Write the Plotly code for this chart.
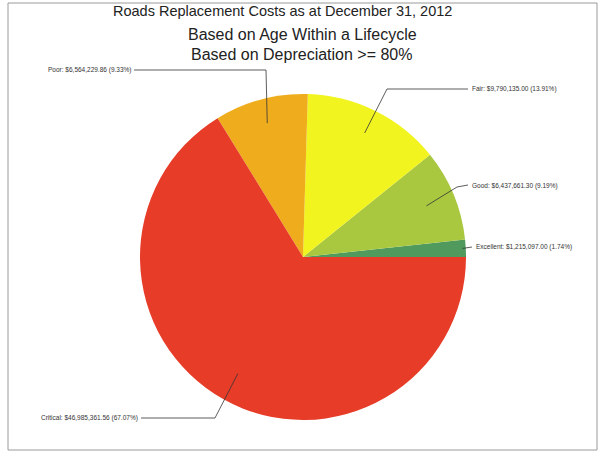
import math
import plotly.graph_objects as go

W, H = 603, 456

categories = ["Excellent", "Good", "Fair", "Poor", "Critical"]
values = [1215097.00, 6437661.30, 9750135.00, 6564229.86, 46985361.56]
label_texts = [
    "Excellent: $1,215,097.00 (1.74%)",
    "Good: $6,437,661.30 (9.19%)",
    "Fair: $9,790,135.00 (13.91%)",
    "Poor: $6,564,229.86 (9.33%)",
    "Critical: $46,985,361.56 (67.07%)",
]
colors = ["#4f9a5c", "#a9c840", "#f1f41e", "#efad1e", "#e63c28"]

title_lines = [
    "Roads Replacement Costs as at December 31, 2012",
    "Based on Age Within a Lifecycle",
    "Based on Depreciation >= 80%",
]

# pie geometry in pixels
cx, cy, R = 303, 257, 163

def px(x):
    return x / W

def py(y):
    return 1 - y / H

total = sum(values)

fig = go.Figure(go.Pie(
    labels=categories,
    values=values,
    marker=dict(colors=colors, line=dict(width=0)),
    sort=False,
    direction="counterclockwise",
    rotation=90 - 360 * values[0] / total,
    textinfo="none",
    hoverinfo="label+value+percent",
    domain=dict(x=[px(cx - R), px(cx + R)], y=[py(cy + R), py(cy - R)]),
    showlegend=False,
))

# anchor points from data (mid-angle of each slice, ccw from 3 o'clock)
cum = 0
anchors = []
for v in values:
    mid = cum + v / 2
    cum += v
    anchors.append(2 * math.pi * mid / total)

layouts = {
    "Excellent": dict(tx=474, ty=247, xanchor="left", elbow=[(472, 247)], rf=0.98),
    "Good": dict(tx=470, ty=186, xanchor="left", elbow=[(468, 185), (457, 187)], rf=0.82),
    "Fair": dict(tx=470, ty=89, xanchor="left", elbow=[(468, 89), (387, 89)], rf=0.85),
    "Poor": dict(tx=133, ty=70, xanchor="right", elbow=[(134, 70), (266, 70)], rf=0.85),
    "Critical": dict(tx=140, ty=418, xanchor="right", elbow=[(141, 418), (215, 418)], rf=0.82),
}

shapes = []
annotations = []
for cat, txt, a in zip(categories, label_texts, anchors):
    L = layouts[cat]
    axp = cx + L["rf"] * R * math.cos(a)
    ayp = cy - L["rf"] * R * math.sin(a)
    pts = L["elbow"] + [(axp, ayp)]
    path = "M " + " L ".join(f"{px(x):.5f},{py(y):.5f}" for x, y in pts)
    shapes.append(dict(type="path", xref="paper", yref="paper", path=path,
                       line=dict(color="#333333", width=0.8)))
    annotations.append(dict(text=txt, x=px(L["tx"]), y=py(L["ty"]), xref="paper", yref="paper",
                            xanchor=L["xanchor"], yanchor="middle", showarrow=False,
                            font=dict(size=6.5, color="#333333", family="Liberation Sans, Arial")))

title_pos = [(282, 11, 14.5), (302, 34, 16), (301, 55, 16)]
for t, (tx, ty, fs) in zip(title_lines, title_pos):
    annotations.append(dict(text=t, x=px(tx), y=py(ty), xref="paper", yref="paper",
                            xanchor="center", yanchor="middle", showarrow=False,
                            font=dict(size=fs, color="#222222", family="Liberation Sans, Arial")))

# frame
shapes.append(dict(type="rect", xref="paper", yref="paper", x0=px(8), x1=px(597), y0=py(450), y1=py(3),
                   line=dict(color="#9a9a9a", width=1)))

fig.update_layout(
    width=W, height=H,
    margin=dict(l=0, r=0, t=0, b=0),
    paper_bgcolor="white",
    plot_bgcolor="white",
    shapes=shapes,
    annotations=annotations,
)

fig.write_html("out.html", config={"displayModeBar": False},
               post_script="document.body.style.margin='0';")
